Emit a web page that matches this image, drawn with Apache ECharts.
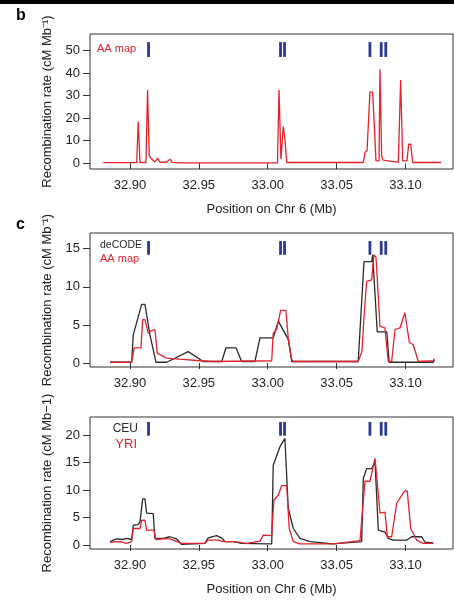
<!DOCTYPE html>
<html><head><meta charset="utf-8">
<script src="https://cdn.jsdelivr.net/npm/echarts@6/dist/echarts.min.js"></script>
<style>html,body{margin:0;padding:0;background:#fff}#c{width:454px;height:600px}</style>
</head><body><div id="c"></div>
<script>
// ---- data ----
const xTicks = [32.90, 32.95, 33.00, 33.05, 33.10];
const yTicksB = [0, 10, 20, 30, 40, 50];
const yTicksC1 = [0, 5, 10, 15];
const yTicksC2 = [0, 5, 10, 15, 20];

// panel b: AA map
const posB_AA = [32.8806,32.9049,32.9060,32.9073,32.9116,32.9128,32.9140,32.9158,32.9181,32.9201,32.9218,32.9266,32.9290,32.9307,32.9363,33.0071,33.0082,33.0096,33.0113,33.0125,33.0138,33.0694,33.0706,33.0721,33.0742,33.0762,33.0786,33.0808,33.0815,33.0827,33.0839,33.0948,33.0965,33.0980,33.1011,33.1023,33.1038,33.1052,33.1258];
const rateB_AA = [0.2,0.2,18.5,0.3,0.3,32.5,3.2,1.8,0.5,2.2,0.4,0.4,1.8,0.3,0.1,0.1,32.5,1.8,16.3,10.6,0.3,0.3,4.7,5.5,31.6,31.6,1.0,1.0,41.7,3.2,1.3,0.3,37.0,1.0,1.0,8.4,8.4,0.3,0.3];

// panel c (top): deCODE and AA map
const posC1_deCODE = [32.8855,32.9012,32.9024,32.9085,32.9109,32.9145,32.9189,32.9266,32.9423,32.9532,32.9666,32.9697,32.9770,32.9811,32.9907,32.9944,33.0040,33.0077,33.0149,33.0174,33.0657,33.0699,33.0755,33.0762,33.0795,33.0864,33.0882,33.1202,33.1210];
const rateC1_deCODE = [0.1,0.1,3.7,7.7,7.7,3.7,0.1,0.1,1.5,0.2,0.2,2.0,2.0,0.2,0.2,3.3,3.3,5.5,3.1,0.2,0.2,13.3,13.3,14.2,4.1,4.1,0.1,0.1,0.4];
const posC1_AA = [32.8855,32.9012,32.9031,32.9080,32.9092,32.9109,32.9133,32.9150,32.9181,32.9198,32.9266,32.9363,32.9508,32.9605,33.0029,33.0040,33.0065,33.0094,33.0132,33.0149,33.0174,33.0186,33.0657,33.0684,33.0699,33.0718,33.0755,33.0771,33.0786,33.0815,33.0851,33.0875,33.0900,33.0924,33.0960,33.0996,33.1009,33.1028,33.1057,33.1093,33.1202,33.1210];
const rateC1_AA = [0.1,0.1,2.0,2.0,5.7,5.7,3.9,4.2,4.4,1.3,0.65,0.5,0.3,0.2,0.3,3.9,4.4,6.9,6.9,3.3,0.5,0.2,0.2,1.5,6.0,10.7,10.9,14.2,13.9,4.8,4.6,0.2,0.2,4.4,4.6,6.6,6.6,2.7,2.4,0.2,0.3,0.6];

// panel c (bottom): CEU and YRI
const posC2_CEU = [32.8855,32.8903,32.8940,32.8976,32.9012,32.9024,32.9060,32.9073,32.9092,32.9109,32.9121,32.9169,32.9181,32.9242,32.9290,32.9339,32.9375,32.9544,32.9568,32.9629,32.9666,32.9690,32.9750,32.9811,32.9992,33.0029,33.0040,33.0089,33.0125,33.0138,33.0149,33.0186,33.0234,33.0307,33.0476,33.0682,33.0694,33.0718,33.0755,33.0779,33.0803,33.0827,33.0851,33.0875,33.0911,33.1009,33.1020,33.1045,33.1118,33.1142,33.1202];
const rateC2_CEU = [0.6,1.1,1.0,1.2,1.0,3.6,3.7,4.2,8.4,8.4,5.8,5.7,1.2,1.2,1.5,1.1,0.1,0.3,1.3,1.7,1.3,0.6,0.6,0.3,0.2,0.2,14.5,17.9,19.4,19.4,6.7,3.0,1.2,0.6,0.2,0.6,12.1,13.9,13.9,15.1,2.7,2.5,2.4,1.2,0.9,0.9,0.6,1.5,1.5,0.5,0.4];
const posC2_YRI = [32.8855,32.8927,32.8976,32.9012,32.9024,32.9073,32.9085,32.9109,32.9121,32.9174,32.9189,32.9242,32.9290,32.9375,32.9544,32.9568,32.9641,32.9677,32.9750,32.9847,32.9944,32.9968,33.0029,33.0045,33.0077,33.0101,33.0138,33.0156,33.0186,33.0234,33.0476,33.0670,33.0706,33.0742,33.0779,33.0786,33.0815,33.0827,33.0851,33.0868,33.0900,33.0936,33.0996,33.1013,33.1038,33.1081,33.1129,33.1202];
const rateC2_YRI = [0.5,0.6,0.3,0.6,3.0,3.0,4.5,4.5,2.7,2.7,1.0,1.1,1.1,0.3,0.3,0.9,0.9,0.6,0.6,0.3,0.7,1.8,1.7,8.2,9.1,10.8,10.8,3.0,0.6,0.2,0.2,0.8,11.6,11.6,15.8,15.8,5.8,6.1,6.0,1.5,1.5,7.6,9.9,9.8,3.0,0.9,0.3,0.3];

// hotspot markers (blue bars)
const hotspotPos = [32.9135, 33.0093, 33.0122, 33.0742, 33.0824, 33.0857];
const hotspotB = [47.2, 53.8];
const hotspotC1 = [14.2, 16.0];
const hotspotC2 = [19.9, 22.4];

// ---- chart ----
const FONT = 'Liberation Sans, Arial, Helvetica, sans-serif';
const RED = '#e3222b', BLACK = '#2a2a2a', BLUE = '#2b3990', AX = '#333';
const zip = (a, b) => a.map((v, i) => [v, b[i]]);

function xAxis(gi, withName) {
  return {
    type: 'value', gridIndex: gi, min: 32.871, max: 33.1345,
    axisLine: { show: false },
    axisTick: { show: true, inside: false, length: 6, lineStyle: { color: AX, width: 1 }, customValues: xTicks },
    axisLabel: { customValues: xTicks, margin: 10, fontSize: 13, color: '#222', fontFamily: FONT, formatter: v => v.toFixed(2) },
    splitLine: { show: false },
    name: withName ? 'Position on Chr 6 (Mb)' : '',
    nameLocation: 'middle', nameGap: 34,
    nameTextStyle: { fontSize: 13, color: '#222', fontFamily: FONT }
  };
}
function yAxis(gi, min, max, ticks, name) {
  return {
    type: 'value', gridIndex: gi, min: min, max: max,
    axisLine: { show: false },
    axisTick: { show: true, inside: false, length: 7, lineStyle: { color: AX, width: 1 }, customValues: ticks },
    axisLabel: { customValues: ticks, margin: 10, fontSize: 13, color: '#222', fontFamily: FONT },
    splitLine: { show: false },
    name: name, nameLocation: 'middle', nameGap: 36,
    nameTextStyle: { fontSize: 13, color: '#222', fontFamily: FONT }
  };
}
function lineSeries(gi, pos, rate, color) {
  return {
    type: 'line', xAxisIndex: gi, yAxisIndex: gi, data: zip(pos, rate),
    symbol: 'none', lineStyle: { color: color, width: 1.3 }, animation: false, z: 3
  };
}
function hotspotSeries(gi, range) {
  return {
    type: 'custom', xAxisIndex: gi, yAxisIndex: gi, animation: false, z: 4,
    data: hotspotPos.map(p => [p, range[0], range[1]]),
    encode: { x: 0, y: [1, 2] },
    renderItem: function (params, api) {
      const a = api.coord([api.value(0), api.value(1)]);
      const b = api.coord([api.value(0), api.value(2)]);
      return { type: 'line', shape: { x1: a[0], y1: a[1], x2: b[0], y2: b[1] }, style: { stroke: BLUE, lineWidth: 2.8 } };
    }
  };
}

const chart = echarts.init(document.getElementById('c'), null, { renderer: 'canvas' });
chart.setOption({
  backgroundColor: '#fff',
  animation: false,
  grid: [
    { left: 90, right: 1, top: 34, height: 135, show: true, borderColor: AX, borderWidth: 1, backgroundColor: 'transparent' },
    { left: 90, right: 1, top: 233, height: 134, show: true, borderColor: AX, borderWidth: 1, backgroundColor: 'transparent' },
    { left: 90, right: 1, top: 417, height: 132, show: true, borderColor: AX, borderWidth: 1, backgroundColor: 'transparent' }
  ],
  xAxis: [xAxis(0, true), xAxis(1, false), xAxis(2, true)],
  yAxis: [
    yAxis(0, -2.6, 57.4, yTicksB, 'Recombination rate (cM Mb\u207B\u00B9)'),
    yAxis(1, -0.52, 17.06, yTicksC1, 'Recombination rate (cM Mb\u207B\u00B9)'),
    yAxis(2, -0.73, 23.3, yTicksC2, 'Recombination rate (cM Mb\u22121)')
  ],
  series: [
    lineSeries(0, posB_AA, rateB_AA, RED),
    hotspotSeries(0, hotspotB),
    lineSeries(1, posC1_deCODE, rateC1_deCODE, BLACK),
    lineSeries(1, posC1_AA, rateC1_AA, RED),
    hotspotSeries(1, hotspotC1),
    lineSeries(2, posC2_CEU, rateC2_CEU, BLACK),
    lineSeries(2, posC2_YRI, rateC2_YRI, RED),
    hotspotSeries(2, hotspotC2)
  ],
  graphic: [
    { type: 'rect', left: 0, top: 0, shape: { width: 454, height: 4 }, style: { fill: '#000' } },
    { type: 'text', left: 16, top: 8, style: { text: 'b', font: 'bold 16px ' + FONT, fill: '#000' } },
    { type: 'text', left: 16, top: 217, style: { text: 'c', font: 'bold 16px ' + FONT, fill: '#000' } },
    { type: 'text', left: 97, top: 43, style: { text: 'AA map', font: '11px ' + FONT, fill: RED } },
    { type: 'text', left: 100, top: 240, style: { text: 'deCODE', font: '10.5px ' + FONT, fill: BLACK } },
    { type: 'text', left: 100, top: 253, style: { text: 'AA map', font: '11px ' + FONT, fill: RED } },
    { type: 'text', right: 316, top: 423, style: { text: 'CEU', font: '12px ' + FONT, fill: BLACK } },
    { type: 'text', right: 317, top: 438, style: { text: 'YRI', font: '13px ' + FONT, fill: RED } }
  ]
});
</script></body></html>
